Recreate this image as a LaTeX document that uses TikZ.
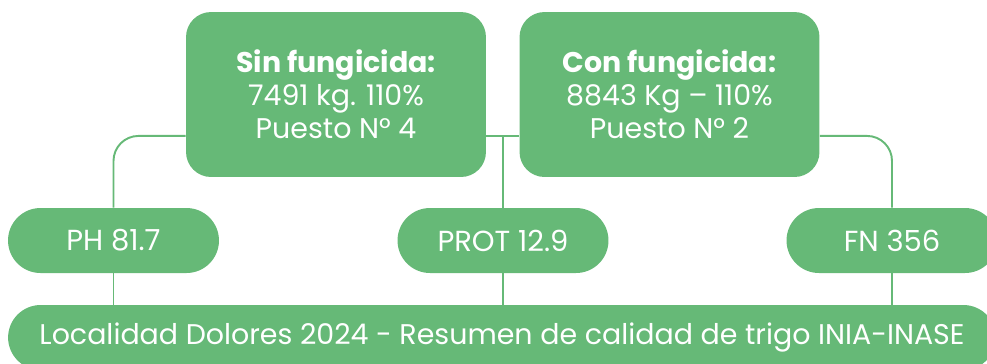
\documentclass[tikz,border=0pt]{standalone}
\usepackage{fontspec}
\setmainfont{Poppins}
\usepackage{tikz}
\usetikzlibrary{calc}
\definecolor{iniagreen}{RGB}{102,185,119}

\begin{document}
\begin{tikzpicture}[x=0.02cm,y=-0.02cm,
    box/.style={fill=iniagreen,text=white,rounded corners=0.5cm,minimum width=6cm,minimum height=3.3cm,align=center,font=\fontsize{16.2}{18.8}\selectfont},
    pill/.style={fill=iniagreen,text=white,rounded corners=0.65cm,minimum width=4.22cm,minimum height=1.3cm,font=\fontsize{16.5}{18.8}\selectfont},
    link/.style={draw=iniagreen,line width=1.1pt,rounded corners=0.5cm}]
      \useasboundingbox (0,0) rectangle (987,363);
      \clip (0,0) rectangle (987,363);
      %this draws the nodes
      \node [box] (sin) at (336,94.5) {\textbf{Sin fungicida:}\\7491 kg. 110\%\\Puesto N° 4};
      \node [box] (con) at (669.5,94.5) {\textbf{Con fungicida:}\\8843 Kg – 110\%\\Puesto N° 2};
      \node [pill] (ph) at (113.5,240.5) {PH 81.7};
      \node [pill] (prot) at (503,240.5) {PROT 12.9};
      \node [pill] (fn) at (892,240.5) {FN 356};
      \node [pill,minimum width=19.76cm,font=\fontsize{16.2}{18.8}\selectfont] (bar) at (502,337.5) {Localidad Dolores 2024 - Resumen de calidad de trigo INIA-INASE};
      %this draws the lines
      \coordinate (left) at ($(sin.north west)!0.75!(sin.south west)$);
      \coordinate (right) at ($(con.north east)!0.75!(con.south east)$);
      \draw[link] (ph.north) |- (left);
      \draw[link] (right) -| (fn.north);
      \draw[link] (sin.east |- left) -- (con.west |- left);
      \draw[link] (prot.north |- left) -- (prot.north);
      \foreach \x in {ph,prot,fn}
        \draw[link] (\x.south) -- (\x.south |- bar.north);
\end{tikzpicture}
\end{document}
